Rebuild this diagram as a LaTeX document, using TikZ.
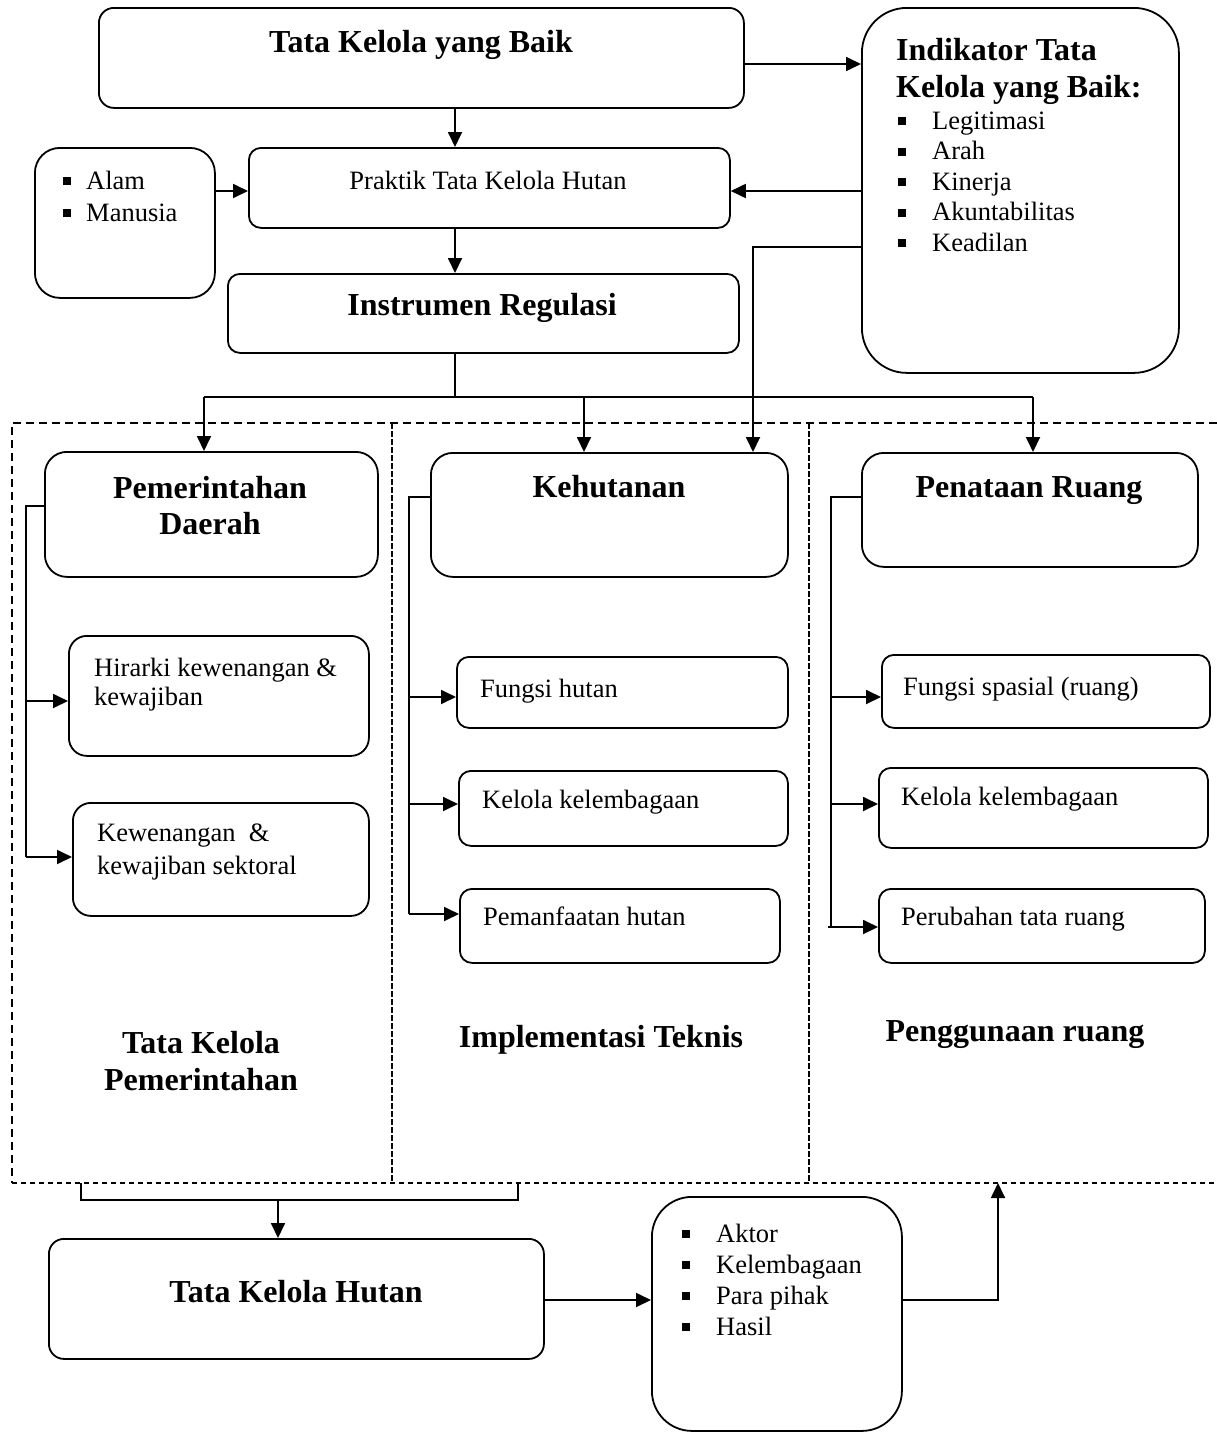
\documentclass[tikz,border=0pt]{standalone}
\usepackage{fontspec}
\setmainfont{Liberation Serif}
\usetikzlibrary{arrows.meta}

% rounded box from its corners: name, x1, y1, x2, y2, corner radius
\newcommand{\rbox}[6]{%
  \node[box, rounded corners=#6pt, minimum width={#4-#2}, minimum height={#5-#3}] (#1) at (#2,#3) {};}

\begin{document}
\begin{tikzpicture}[x=1pt, y=-1pt,
  box/.style={draw, line width=1.8pt, inner sep=0pt, anchor=north west},
  reg/.style={inner sep=0pt, font=\fontsize{26.5}{30.5}\selectfont},
  bld/.style={inner sep=0pt, font=\fontsize{32}{36}\selectfont\bfseries},
  sq/.style={fill, inner sep=0pt, minimum width=8pt, minimum height=8pt},
  conn/.style={line width=1.8pt},
  arr/.style={line width=1.8pt, -{Triangle[length=15pt,width=14pt]}},
  frame/.style={line width=1.6pt, dash pattern=on 8pt off 5pt},
  framelow/.style={line width=1.6pt, dash pattern=on 5pt off 4pt},
  divider/.style={line width=1.6pt, dash pattern=on 6pt off 2pt}]

\useasboundingbox (0,0) rectangle (1217,1432);

% ---------- boxes ----------
\rbox{top}{98}{7}{743}{107}{15}
\rbox{ind}{861}{7}{1178}{372}{45}
\rbox{alam}{34}{147}{214}{297}{25}
\rbox{prak}{248}{147}{729}{227}{12}
\rbox{instr}{227}{273}{738}{352}{12}

\rbox{pem}{44}{451}{377}{576}{22}
\rbox{hir}{68}{635}{368}{755}{18}
\rbox{kew}{72}{802}{368}{915}{18}

\rbox{keh}{430}{452}{787}{576}{22}
\rbox{fh}{456}{656}{787}{727}{12}
\rbox{kk}{458}{770}{787}{845}{12}
\rbox{pm}{459}{888}{779}{962}{12}

\rbox{pr}{861}{452}{1197}{566}{22}
\rbox{fs}{881}{654}{1209}{727}{12}
\rbox{kr}{878}{767}{1207}{847}{12}
\rbox{pt}{878}{888}{1204}{962}{12}

\rbox{tkh}{48}{1238}{543}{1358}{15}
\rbox{akt}{651}{1196}{901}{1430}{40}

% ---------- dashed frame with three columns ----------
\coordinate (fTL) at (12,423);
\coordinate (fTR) at (1217,423);
\coordinate (fBL) at (12,1183);
\coordinate (fBR) at (1217,1183);
\draw[frame] (fTR) -- (fTL) -- (fBL);
\draw[framelow] (fBL) -- (fBR);
\coordinate (d1t) at (392,423); \coordinate (d1b) at (392,1183);
\coordinate (d2t) at (809,423); \coordinate (d2b) at (809,1183);
\draw[divider] (d1t) -- (d1b);
\draw[divider] (d2t) -- (d2b);

% ---------- texts ----------
\node[bld, anchor=base] (t-top) at (421,52) {Tata Kelola yang Baik};
\node[bld, anchor=base west] (t-ind1) at (896,60) {Indikator Tata};
\node[bld, anchor=base west] (t-ind2) at (896,97) {Kelola yang Baik:};
\foreach \t [count=\i] in {Legitimasi,Arah,Kinerja,Akuntabilitas,Keadilan} {
  \pgfmathsetmacro\yb{129+30.5*(\i-1)}
  \node[sq] (ind-sq\i) at (902,\yb-8) {};
  \node[reg, anchor=base west] (ind-it\i) at (932,\yb) {\t};
}
\foreach \t [count=\i] in {Alam,Manusia} {
  \pgfmathsetmacro\yb{189+32*(\i-1)}
  \node[sq] (alam-sq\i) at (67,\yb-8) {};
  \node[reg, anchor=base west] (alam-it\i) at (86,\yb) {\t};
}
\node[reg, anchor=base] (t-prak) at (488,189) {Praktik Tata Kelola Hutan};
\node[bld, anchor=base] (t-instr) at (482,315) {Instrumen Regulasi};

\node[bld, anchor=base] (t-pem1) at (210,498) {Pemerintahan};
\node[bld, anchor=base] (t-pem2) at (210,534) {Daerah};
\node[reg, anchor=base west] (t-hir1) at (94,676) {Hirarki kewenangan \&};
\node[reg, anchor=base west] (t-hir2) at (94,705) {kewajiban};
\node[reg, anchor=base west] (t-kew1) at (97,841) {Kewenangan \ \&};
\node[reg, anchor=base west] (t-kew2) at (97,874) {kewajiban sektoral};

\node[bld, anchor=base] (t-keh) at (609,497) {Kehutanan};
\node[reg, anchor=base west] (t-fh) at (480,697) {Fungsi hutan};
\node[reg, anchor=base west] (t-kk) at (482,808) {Kelola kelembagaan};
\node[reg, anchor=base west] (t-pm) at (483,925) {Pemanfaatan hutan};

\node[bld, anchor=base] (t-pr) at (1029,497) {Penataan Ruang};
\node[reg, anchor=base west] (t-fs) at (903,695) {Fungsi spasial (ruang)};
\node[reg, anchor=base west] (t-kr) at (901,805) {Kelola kelembagaan};
\node[reg, anchor=base west] (t-pt) at (901,925) {Perubahan tata ruang};

\node[bld, anchor=base] (t-col1a) at (201,1053) {Tata Kelola};
\node[bld, anchor=base] (t-col1b) at (201,1090) {Pemerintahan};
\node[bld, anchor=base] (t-col2) at (601,1047) {Implementasi Teknis};
\node[bld, anchor=base] (t-col3) at (1015,1041) {Penggunaan ruang};

\node[bld, anchor=base] (t-tkh) at (296,1302) {Tata Kelola Hutan};
\foreach \t [count=\i] in {Aktor,Kelembagaan,Para pihak,Hasil} {
  \pgfmathsetmacro\yb{1242+31*(\i-1)}
  \node[sq] (akt-sq\i) at (686,\yb-8) {};
  \node[reg, anchor=base west] (akt-it\i) at (716,\yb) {\t};
}

% ---------- connectors, upper part ----------
\draw[arr] (top.south -| 455,0) -- (prak.north -| 455,0);
\draw[arr] (top.east |- 0,64) -- (ind.west |- 0,64);
\draw[arr] (alam.east |- 0,191) -- (prak.west |- 0,191);
\draw[arr] (ind.west |- 0,191) -- (prak.east |- 0,191);
\draw[arr] (prak.south -| 455,0) -- (instr.north -| 455,0);

% distribution line below the regulation box
\coordinate (split) at (455,397);
\coordinate (splitL) at (204,397);
\coordinate (splitM) at (584,397);
\coordinate (splitR) at (1033,397);
\draw[conn] (instr.south -| split) -- (split);
\draw[conn] (splitL) -- (splitR);
\draw[arr] (splitL) -- (pem.north -| splitL);
\draw[arr] (splitM) -- (keh.north -| splitM);
\draw[arr] (splitR) -- (pr.north -| splitR);

% indicators feed into forestry
\coordinate (indK) at (753,247);
\draw[arr] (ind.west |- indK) -- (indK) -- (keh.north -| indK);

% ---------- column brackets ----------
\coordinate (bp) at (26,506);
\draw[conn] (pem.west |- bp) -- (bp) -- (26,857);
\draw[arr] (26,701) -- (hir.west |- 0,701);
\draw[arr] (26,857) -- (kew.west |- 0,857);

\coordinate (bk) at (409,497);
\draw[conn] (keh.west |- bk) -- (bk) -- (409,914);
\draw[arr] (409,697) -- (fh.west |- 0,697);
\draw[arr] (409,804) -- (kk.west |- 0,804);
\draw[arr] (409,914) -- (pm.west |- 0,914);

\coordinate (br) at (831,497);
\draw[conn] (pr.west |- br) -- (br) -- (831,927);
\draw[arr] (831,697) -- (fs.west |- 0,697);
\draw[arr] (831,804) -- (kr.west |- 0,804);
\draw[arr] (828,927) -- (pt.west |- 0,927);

% ---------- lower part ----------
\coordinate (bbL) at (81,1200);
\coordinate (bbR) at (518,1200);
\coordinate (bbM) at (278,1200);
\draw[conn] (fBL -| bbL) -- (bbL) -- (bbR) -- (fBL -| bbR);
\draw[arr] (bbM) -- (tkh.north -| bbM);
\draw[arr] (tkh.east |- 0,1300) -- (akt.west |- 0,1300);
\coordinate (up) at (998,1300);
\draw[arr] (akt.east |- up) -- (up) -- (fBL -| up);

\end{tikzpicture}
\end{document}
